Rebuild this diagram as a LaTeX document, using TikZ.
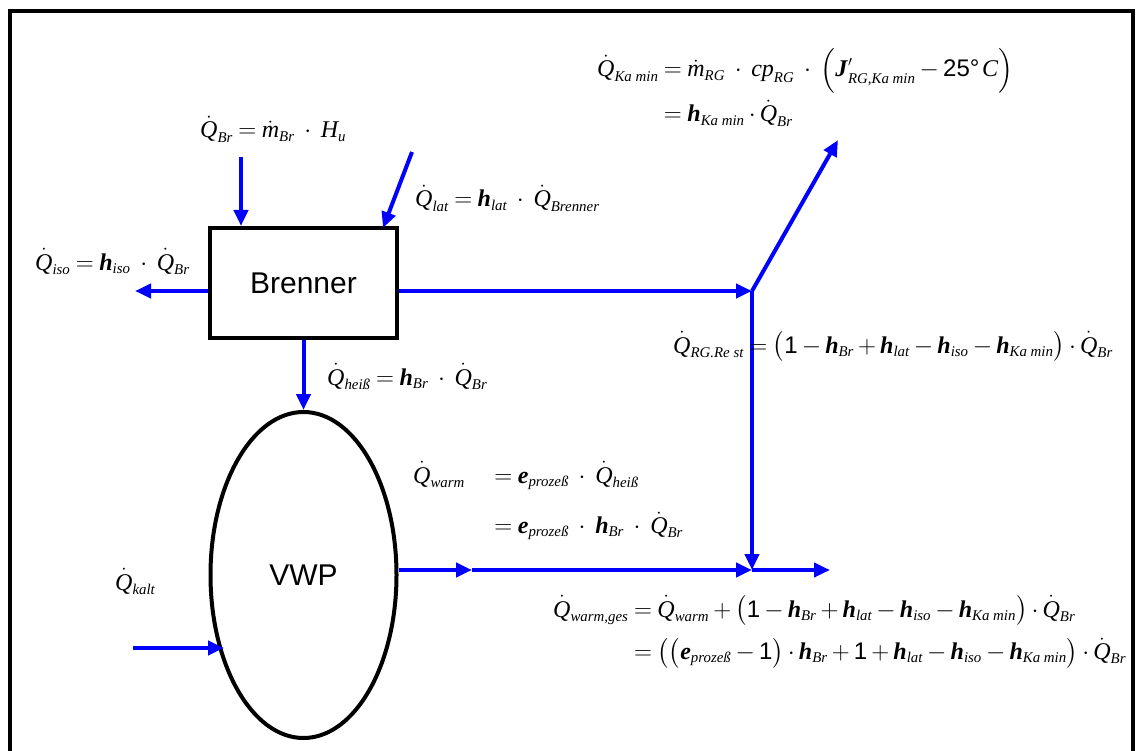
\documentclass[tikz,border=0pt]{standalone}
\usepackage{amsmath}
\usepackage{fontspec}
\setmainfont{Liberation Serif}
\setsansfont{Liberation Sans}
\usetikzlibrary{arrows.meta, shapes.geometric}
\renewcommand{\defaultscriptratio}{.62}

\newcommand{\Qd}[1]{\dot{\textit{Q}}_{\textit{#1}}}
\newcommand{\md}[1]{\dot{\textit{m}}_{\textit{#1}}}
\newcommand{\hb}[1]{\textbf{\textit{h}}_{\textit{#1}}}
\newcommand{\eb}[1]{\textbf{\textit{e}}_{\textit{#1}}}
\newcommand{\one}{\textsf{1}}
\newcommand{\eqfont}{\fontsize{24}{29}\selectfont\medmuskip=3mu\thickmuskip=4mu\thinmuskip=2mu}

\begin{document}
\begin{tikzpicture}[x=1pt, y=-1pt,
  flow/.style={draw=blue, line width=4pt, -{Triangle[length=16pt,width=14pt]}},
  block/.style={draw, line width=4pt, font=\sffamily\fontsize{30}{36}\selectfont},
  eq/.style={anchor=base west, inner sep=0pt, font=\eqfont}]
  \useasboundingbox (0,0) rectangle (1137,751);
  \clip (0,0) rectangle (1137,751);
  \draw[line width=4pt] (10,11) rectangle (1133,770);

  % blocks
  \node[block, minimum width=187pt, minimum height=110pt] (brenner) at (303.5,283) {Brenner};
  \node[block, ellipse, minimum width=186pt, minimum height=326pt] (vwp) at (303.5,575) {VWP};

  % free ends
  \coordinate (brin)    at (241,157);
  \coordinate (latin)   at (412,152);
  \coordinate (latend)  at (383,228);
  \coordinate (isoout)  at (135,291);
  \coordinate (junA)    at (752,291);
  \coordinate (kamin)   at (838,140);
  \coordinate (junB)    at (752,570);
  \coordinate (mid)     at (472,570);
  \coordinate (warmout) at (830,570);
  \coordinate (kaltin)  at (133,648);
  \coordinate (kaltend) at (224,648);

  % flows
  \draw[flow] (brin) -- (brin |- brenner.north);
  \draw[flow] (latin) -- (latend);
  \draw[flow] (isoout -| brenner.west) -- (isoout);
  \draw[flow] (junA -| brenner.east) -- (junA);
  \draw[flow] (junA) -- (kamin);
  \draw[flow] (junA) -- (junB);
  \draw[flow] (brenner.south) -- (vwp.north);
  \draw[flow] (mid -| vwp.east) -- (mid);
  \draw[flow] (mid) -- (junB);
  \draw[flow] (junB) -- (warmout);
  \draw[flow] (kaltin) -- (kaltend);

  % balances
  \node[eq] (eqkamin) at (597,77) {$\begin{aligned}[t]
      \Qd{Ka min} &= \md{RG}\;\cdot\;\textit{cp}_{\textit{RG}}\;\cdot\;
        \Bigl(\textbf{\textit{J}}'_{\textit{RG,Ka min}} - \textsf{25°}\,\textit{C}\Bigr)\\[3pt]
      &= \hb{Ka min}\cdot\Qd{Br}\end{aligned}$};
  \node[eq] (eqbr)   at (200,138) {$\Qd{Br} = \md{Br}\;\cdot\;\textit{H}_{\textit{u}}$};
  \node[eq] (eqlat)  at (415,207) {$\Qd{lat} = \hb{lat}\;\cdot\;\Qd{Brenner}$};
  \node[eq] (eqiso)  at (35,270)  {$\Qd{iso} = \hb{iso}\;\cdot\;\Qd{Br}$};
  \node[eq] (eqheiss) at (327,385) {$\Qd{heiß} = \hb{Br}\;\cdot\;\Qd{Br}$};
  \node[eq] (eqrest) at (673,353) {$\Qd{RG.Re st} =
      \bigl(\one - \hb{Br} + \hb{lat} - \hb{iso} - \hb{Ka min}\bigr)\cdot\Qd{Br}$};
  \node[eq] (eqwarm) at (413,483) {$\begin{aligned}[t]
      \Qd{warm}\quad &= \eb{prozeß}\;\cdot\;\Qd{heiß}\\[16pt]
      &= \eb{prozeß}\;\cdot\;\hb{Br}\;\cdot\;\Qd{Br}\end{aligned}$};
  \node[eq] (eqges)  at (553,617) {$\begin{aligned}[t]
      \Qd{warm,ges} &= \Qd{warm} + \bigl(\one - \hb{Br} + \hb{lat} - \hb{iso} - \hb{Ka min}\bigr)\cdot\Qd{Br}\\[8pt]
      &= \bigl(\bigl(\eb{prozeß} - \one\bigr)\cdot\hb{Br} + \one + \hb{lat} - \hb{iso} - \hb{Ka min}\bigr)\cdot\Qd{Br}
      \end{aligned}$};
  \node[eq] (eqkalt) at (115,590) {$\Qd{kalt}$};
\end{tikzpicture}
\end{document}
